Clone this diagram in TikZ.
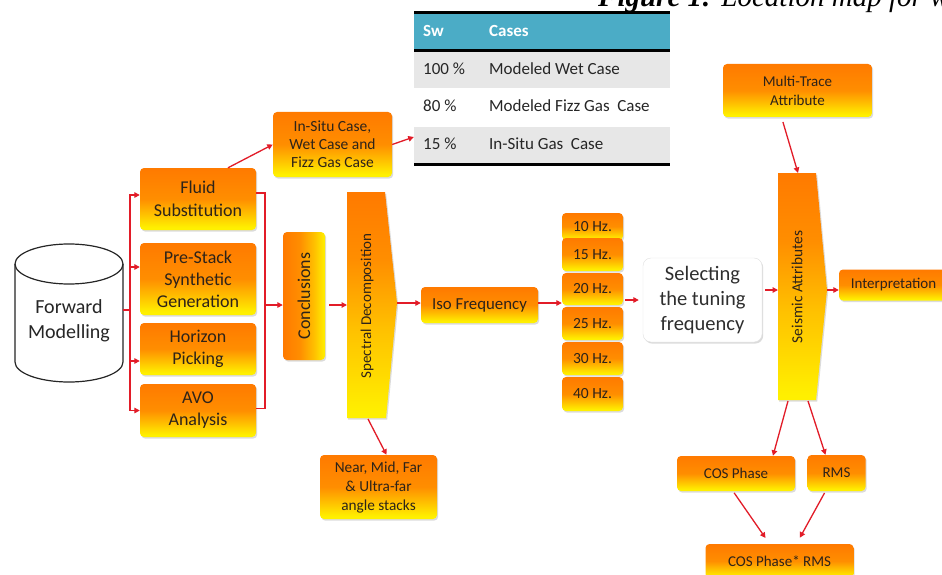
\documentclass[tikz,border=0pt]{standalone}
\usepackage{fontspec}
\usepackage{graphicx}
\setmainfont{Carlito}
\newfontfamily\capfont{Liberation Serif}
\usetikzlibrary{arrows.meta,shadows,calc}
\definecolor{OT}{RGB}{255,122,0}
\definecolor{OM}{RGB}{255,142,0}
\definecolor{YM}{RGB}{255,192,0}
\definecolor{YB}{RGB}{255,240,0}
\definecolor{ared}{RGB}{226,28,40}
\definecolor{hblue}{RGB}{75,172,198}
\definecolor{rgrey}{RGB}{231,231,231}
\definecolor{txt}{RGB}{45,35,25}
\pgfdeclareverticalshading{oyv}{100bp}{color(0bp)=(YB); color(27bp)=(YB); color(38bp)=(YM); color(50bp)=(OM); color(75bp)=(OT); color(100bp)=(OT)}
\pgfdeclareverticalshading{oyp}{100bp}{color(0bp)=(YB); color(26bp)=(YB); color(45bp)=(YM); color(60bp)=(OM); color(75bp)=(OT); color(100bp)=(OT)}
\pgfdeclarehorizontalshading{oyh}{100bp}{color(0bp)=(OT); color(25bp)=(OT); color(45bp)=(OM); color(62bp)=(YM); color(75bp)=(YB); color(100bp)=(YB)}
\tikzset{
  shd/.style={drop shadow={shadow xshift=1.2pt, shadow yshift=-1.6pt, opacity=0.28}},
  obox/.style={shd, rounded corners=4pt, shading=oyv, text=txt, align=center, inner sep=1pt,
    font=\fontsize{15.5}{18.5}\selectfont},
  hzbox/.style={obox, minimum width=61pt},
  arr/.style={draw=ared, line width=1.3pt, -{Triangle[length=5.5pt,width=5.5pt]}},
  conn/.style={draw=ared, line width=1.3pt},
  tabtxt/.style={anchor=west, inner sep=0pt, text=black!85, font=\fontsize{17}{20}\selectfont},
}
\begin{document}
\begin{tikzpicture}[x=1pt,y=-1pt]
\clip (0,0) rectangle (942,575);
\fill[white] (0,0) rectangle (942,575);

% caption (cut off at the top)
\node[anchor=base west, inner sep=0pt, font=\capfont\fontsize{29}{34}\selectfont] (cap) at (598,7)
  {\textbf{\textit{Figure 1:}} \textit{Location map for w}};

% table
\fill[hblue] (414,13) rectangle (670,50);
\fill[rgrey] (414,52) rectangle (670,88);
\node[fill=rgrey, minimum width=256pt, minimum height=36pt, inner sep=0pt] (row3) at (542,145) {};
\draw[line width=3pt] (414,13) -- (670,13);
\draw[line width=3pt] (414,51) -- (670,51);
\draw[line width=3pt] (414,164.5) -- (670,164.5);
\node[tabtxt, text=white] (h1) at (423,31) {\textbf{Sw}};
\node[tabtxt, text=white] (h2) at (489,31) {\textbf{Cases}};
\node[tabtxt] (a1) at (423,69) {100 \%};
\node[tabtxt] (b1) at (489,69) {Modeled Wet Case};
\node[tabtxt] (a2) at (423,106) {80 \%};
\node[tabtxt] (b2) at (489,106) {Modeled Fizz Gas\ \ Case};
\node[tabtxt] (a3) at (423,144) {15 \%};
\node[tabtxt] (b3) at (489,144) {In-Situ Gas\ \ Case};

% cylinder
\filldraw[line width=1.2pt, draw=black!85, fill=white] (15,264) -- (15,362)
  arc[start angle=180, end angle=0, x radius=54, y radius=20] -- (123,264);
\draw[line width=1.2pt, draw=black!85] (69,264) ellipse[x radius=54, y radius=20];
\node[align=center, text=black!85, font=\fontsize{20}{25}\selectfont] (fm) at (69,321) {Forward\\Modelling};
\coordinate (fmR) at (123,310);
\coordinate (busL) at (130,310);

% left column
\node[obox, minimum width=116pt, minimum height=62pt, font=\fontsize{18}{23}\selectfont] (fluid) at (198,199) {Fluid\\Substitution};
\node[obox, minimum width=116pt, minimum height=72pt, font=\fontsize{18}{22}\selectfont] (prestack) at (198,279) {Pre-Stack\\Synthetic\\Generation};
\node[obox, minimum width=116pt, minimum height=52pt, font=\fontsize{18}{22}\selectfont] (horizon) at (198,349) {Horizon\\Picking};
\node[obox, minimum width=116pt, minimum height=53pt, font=\fontsize{18}{22}\selectfont] (avo) at (198,410.5) {AVO\\Analysis};

\draw[conn] (fmR) -- (busL);
\draw[arr] (busL) |- ([yshift=4pt]fluid.west);
\draw[arr] (busL) |- ([yshift=12pt]prestack.west);
\draw[arr] (busL) |- ([yshift=-12pt]horizon.west);
\draw[arr] (busL) |- (avo.west);

% in-situ
\node[obox, minimum width=119pt, minimum height=65pt, font=\fontsize{15.5}{18}\selectfont] (insitu) at (332.5,144.5) {In-Situ Case,\\Wet Case and\\Fizz Gas Case};
\draw[arr] ([xshift=30pt]fluid.north) -- (insitu.west);
\draw[arr] (insitu.east) -- ([yshift=8pt]row3.west);

% conclusions
\coordinate (busR) at (265,305);
\node[obox, shading=oyh, minimum width=42pt, minimum height=128pt, inner sep=0pt] (concl) at (304,296)
  {\rotatebox{90}{\fontsize{18}{20}\selectfont Conclusions}};
\draw[conn] ([yshift=6pt]fluid.east) -| (busR) |- ([yshift=2pt]avo.east);
\draw[arr] (busR) -- (busR -| concl.west);

% spectral decomposition
\path[shd, shading=oyp] (347,192) -- (385,192) -- (397,303) -- (386,418) -- (347,418) -- cycle;
\node[rotate=90, text=txt, inner sep=0pt, font=\fontsize{15}{18}\selectfont] (spec) at (367,306) {Spectral Decomposition};
\coordinate (specL) at (347,305);
\coordinate (spectip) at (397,303);
\coordinate (specB) at (368,419);
\draw[arr, shorten <=4pt] (concl.east |- specL) -- (specL);

% iso frequency and angle stacks
\node[obox, minimum width=117pt, minimum height=36pt, font=\fontsize{16.8}{20}\selectfont] (iso) at (479.5,305) {Iso Frequency};
\draw[arr] (spectip) -- (iso.west |- spectip);
\node[obox, minimum width=117pt, minimum height=64pt, font=\fontsize{15.3}{19}\selectfont] (near) at (378.5,487) {Near, Mid, Far\\\& Ultra-far\\angle stacks};
\draw[arr] (specB) -- ([xshift=8pt]near.north);

% frequencies
\node[hzbox, minimum height=27pt] (f10) at (592.5,226.5) {10 Hz.};
\node[hzbox, minimum height=33pt] (f15) at (592.5,254.5) {15 Hz.};
\node[hzbox, minimum height=32pt] (f20) at (592.5,289) {20 Hz.};
\node[hzbox, minimum height=33pt] (f25) at (592.5,323.5) {25 Hz.};
\node[hzbox, minimum height=33pt] (f30) at (592.5,358.5) {30 Hz.};
\node[hzbox, minimum height=34pt] (f40) at (592.5,394) {40 Hz.};
\draw[arr] ([yshift=2pt]iso.east) -- ([yshift=2pt]iso.east -| f20.west);

% selecting
\node[shd, draw=black!12, fill=white, rounded corners=8pt, minimum width=119pt, minimum height=84pt,
  align=center, text=black!82, font=\fontsize{20.5}{25}\selectfont] (sel) at (702.5,300) {Selecting\\the tuning\\frequency};
\draw[arr, shorten <=2pt, shorten >=4pt] (sel.west -| f20.east) -- (sel.west);

% seismic attributes
\path[shd, shading=oyp] (778,173) -- (816,173) -- (827,290) -- (816,400) -- (778,400) -- cycle;
\node[rotate=90, text=txt, inner sep=0pt, font=\fontsize{15.4}{18}\selectfont] (seis) at (797,287) {Seismic Attributes};
\coordinate (seisL) at (778,290);
\coordinate (seisT) at (798,173);
\coordinate (seistip) at (827,290);
\coordinate (seisB1) at (788,401);
\coordinate (seisB2) at (808,401);
\draw[arr, shorten <=3pt] ([yshift=10pt]sel.east) -- (seisL);

\node[obox, minimum width=149pt, minimum height=53pt, font=\fontsize{15}{19}\selectfont] (multi) at (797.5,90.5) {Multi-Trace\\Attribute};
\draw[arr, shorten <=5pt] ([xshift=-16pt]multi.south) -- (seisT);

\node[obox, minimum width=109pt, minimum height=31pt, font=\fontsize{15}{18}\selectfont] (interp) at (893.5,285) {Interpretation};
\draw[arr] (seistip) -- (seistip -| interp.west);

\node[obox, minimum width=118pt, minimum height=35pt, font=\fontsize{15}{18}\selectfont] (cos) at (736,473.5) {COS Phase};
\node[obox, minimum width=58pt, minimum height=36pt, font=\fontsize{15}{18}\selectfont] (rms) at (836.5,473) {RMS};
\draw[arr] (seisB1) -- ([xshift=37pt]cos.north);
\draw[arr] (seisB2) -- ([xshift=-11pt]rms.north);

\node[obox, minimum width=148pt, minimum height=34pt, font=\fontsize{15}{18}\selectfont] (final) at (779.5,561) {COS Phase* RMS};
\draw[arr, shorten <=2pt, shorten >=7pt] ([xshift=-3pt]cos.south) -- ([xshift=-10pt]final.north);
\draw[arr, shorten <=2pt, shorten >=7pt] ([xshift=-11pt]rms.south) -- ([xshift=17pt]final.north);
\end{tikzpicture}
\end{document}
